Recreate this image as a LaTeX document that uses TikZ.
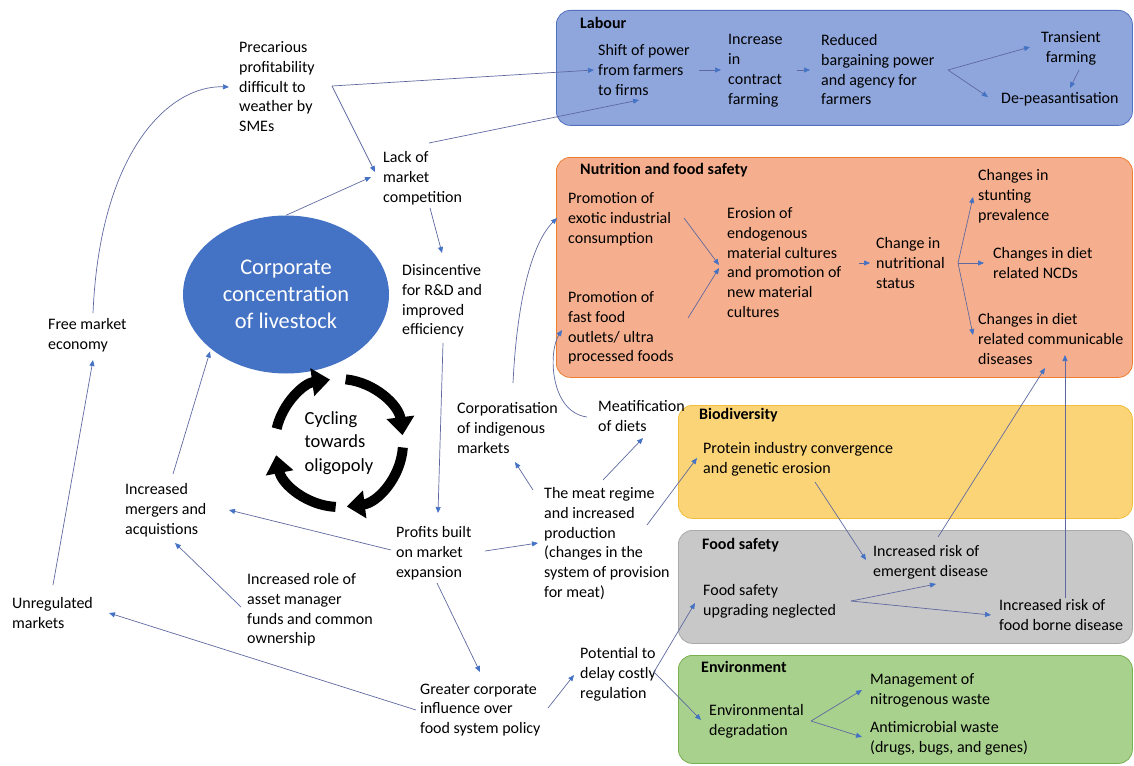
\documentclass[tikz,border=0pt]{standalone}
\usepackage{fontspec}
\setmainfont{Carlito}
\usetikzlibrary{arrows.meta,shapes.geometric}
\definecolor{lnk}{RGB}{95,105,160}
\definecolor{tipblue}{RGB}{68,114,196}
\definecolor{concblue}{RGB}{68,114,196}
\definecolor{labfill}{RGB}{143,166,221}
\definecolor{labline}{RGB}{84,112,192}
\definecolor{nutfill}{RGB}{246,175,142}
\definecolor{nutline}{RGB}{237,125,49}
\definecolor{biofill}{RGB}{252,212,120}
\definecolor{bioline}{RGB}{240,190,60}
\definecolor{fsfill}{RGB}{200,200,200}
\definecolor{fsline}{RGB}{170,170,170}
\definecolor{envfill}{RGB}{169,209,142}
\definecolor{envline}{RGB}{120,175,80}
\begin{document}
\begin{tikzpicture}[x=1pt,y=-1pt,
  txt/.style={font=\fontsize{16}{19.7}\selectfont, align=left, inner xsep=0pt,
    inner ysep=4.5pt, anchor=north west},
  ttl/.style={txt, font=\fontsize{16}{19.7}\selectfont\bfseries},
  panel/.style={rounded corners=14pt, line width=0.8pt, anchor=north west,
    inner sep=0pt, minimum width=576pt},
  link/.style={draw=lnk, line width=0.7pt,
    -{Triangle[length=6pt,width=5pt,color=tipblue]}},
  cycarrow/.style={line width=10pt, -{Triangle[length=18pt,width=27pt]}}
]
\useasboundingbox (0,0) rectangle (1134,765);

% coloured panels
\node[panel, fill=labfill, draw=labline, minimum height=115pt] (labourbox) at (556,10) {};
\node[panel, fill=nutfill, draw=nutline, minimum height=220pt] (nutbox) at (556,157) {};
\node[panel, fill=biofill, draw=bioline, minimum width=454pt, minimum height=113pt] (biobox) at (678,405) {};
\node[panel, fill=fsfill, draw=fsline, minimum width=454pt, minimum height=113pt] (fsbox) at (678,530) {};
\node[panel, fill=envfill, draw=envline, minimum width=454pt, minimum height=108pt] (envbox) at (678,655) {};

% central ellipse and the oligopoly cycle
\node[ellipse, fill=concblue, minimum width=206pt, minimum height=158pt, inner sep=0pt,
  text=white, align=center, font=\fontsize{22.4}{27}\selectfont] (conc) at (286,294.5)
  {Corporate\\concentration\\of livestock};
\node[align=left, inner sep=0pt, font=\fontsize{18.5}{23.5}\selectfont] (cyc) at (339,443)
  {Cycling\\towards\\oligopoly};
\draw[cycarrow] ([shift={(193:64)}]cyc.center) arc[start angle=193, end angle=262, radius=64];
\draw[cycarrow] ([shift={(276:64)}]cyc.center) arc[start angle=276, end angle=353, radius=64];
\draw[cycarrow] ([shift={(4:64)}]cyc.center) arc[start angle=4, end angle=83, radius=64];
\draw[cycarrow] ([shift={(93:64)}]cyc.center) arc[start angle=93, end angle=169, radius=64];

% free-standing causes and effects
\node[txt] (prec) at (239,37) {Precarious\\profitability\\difficult to\\weather by\\SMEs};
\node[txt] (lack) at (383,147) {Lack of\\market\\competition};
\node[txt] (disinc) at (402,260) {Disincentive\\for R\&D and\\improved\\efficiency};
\node[txt] (free) at (48,314) {Free market\\economy};
\node[txt] (merg) at (125,479) {Increased\\mergers and\\acquistions};
\node[txt] (asset) at (247,569) {Increased role of\\asset manager\\funds and common\\ownership};
\node[txt] (unreg) at (12,593) {Unregulated\\markets};
\node[txt] (profits) at (396,522) {Profits built\\on market\\expansion};
\node[txt] (greater) at (420,679) {Greater corporate\\influence over\\food system policy};
\node[txt] (meat) at (544,483) {The meat regime\\and increased\\production\\(changes in the\\system of provision\\for meat)};
\node[txt] (corp) at (457,398) {Corporatisation\\of indigenous\\markets};
\node[txt] (meatif) at (598,396) {Meatification\\of diets};
\node[txt] (potential) at (580,643) {Potential to\\delay costly\\regulation};

% Labour panel
\node[ttl] (labt) at (580,13) {Labour};
\node[txt] (shift) at (598,40) {Shift of power\\from farmers\\to firms};
\node[txt] (incr) at (728,30) {Increase\\in\\contract\\farming};
\node[txt] (reduced) at (821,30) {Reduced\\bargaining power\\and agency for\\farmers};
\node[txt, align=center, anchor=north] (transient) at (1071,27) {Transient\\farming};
\node[txt] (depeas) at (1001,88) {De-peasantisation};

% Nutrition panel
\node[ttl] (nutt) at (580,159) {Nutrition and food safety};
\node[txt] (exotic) at (568,188) {Promotion of\\exotic industrial\\consumption};
\node[txt] (fast) at (568,287) {Promotion of\\fast food\\outlets/ ultra\\processed foods};
\node[txt] (erosion) at (727,203) {Erosion of\\endogenous\\material cultures\\and promotion of\\new material\\cultures};
\node[txt] (change) at (876,233) {Change in\\nutritional\\status};
\node[txt] (stunting) at (978,165) {Changes in\\stunting\\prevalence};
\node[txt] (ncd) at (993,243) {Changes in diet\\related NCDs};
\node[txt] (commun) at (978,309) {Changes in diet\\related communicable\\diseases};

% Biodiversity, food safety and environment panels
\node[ttl] (biot) at (699,404) {Biodiversity};
\node[txt] (protein) at (703,438) {Protein industry convergence\\and genetic erosion};
\node[ttl] (fst) at (702,534) {Food safety};
\node[txt] (upgrade) at (703,580) {Food safety\\upgrading neglected};
\node[txt] (emergent) at (873,541) {Increased risk of\\emergent disease};
\node[txt] (foodborne) at (999,595) {Increased risk of\\food borne disease};
\node[ttl] (envt) at (701,657) {Environment};
\node[txt] (envdeg) at (709,700) {Environmental\\degradation};
\node[txt] (mgmt) at (870,669) {Management of\\nitrogenous waste};
\node[txt] (antimic) at (870,717) {Antimicrobial waste\\(drugs, bugs, and genes)};

% branch points
\coordinate (precout) at ([shift={(93,49)}]prec.north west);
\coordinate (changeout) at ([shift={(82,30)}]change.north west);
\coordinate (reducedout) at ([shift={(127,40)}]reduced.north west);
\coordinate (upgradeout) at ([shift={(148,21)}]upgrade.north west);
\coordinate (potout) at ([shift={(74,29)}]potential.north west);
\coordinate (envout) at ([shift={(102,21)}]envdeg.north west);

% connectors around the cycle
\draw[link] ([shift={(45,-1)}]free.north west) .. controls +(7,-163) and +(-59,-2) .. ([shift={(-10,50)}]prec.north west);
\draw[link] ([shift={(41,-8)}]unreg.north west) -- ([shift={(45,46)}]free.north west);
\draw[link] ([shift={(48,-5)}]merg.north west) -- ([shift={(-76,57)}]conc.center);
\draw[link] (conc.north) -- ([shift={(-12,30)}]lack.north west);
\draw[link] (precout) -- ([shift={(-8,25)}]lack.north west);
\draw[link] (precout) -- ([shift={(-4,30)}]shift.north west);
\draw[link] ([shift={(46,-4)}]lack.north west) -- ([shift={(41,60)}]shift.north west);
\draw[link] ([shift={(47,61)}]lack.north west) -- ([shift={(40,-7)}]disinc.north west);
\draw[link] ([shift={(41,83)}]disinc.north west) -- ([shift={(42,-9)}]profits.north west);
\draw[link] ([shift={(-5,28)}]profits.north west) -- ([shift={(104,31)}]merg.north west);
\draw[link] ([shift={(-6,38)}]asset.north west) -- ([shift={(50,64)}]merg.north west);
\draw[link] ([shift={(41,61)}]profits.north west) -- ([shift={(60,-7)}]greater.north west);
\draw[link] ([shift={(-4,31)}]greater.north west) -- ([shift={(97,20)}]unreg.north west);
\draw[link] ([shift={(89,29)}]profits.north west) -- ([shift={(-6,60)}]meat.north west);
\draw[link] ([shift={(-11,7)}]meat.north west) -- ([shift={(58,64)}]corp.north west);
\draw[link] ([shift={(59,-3)}]meat.north west) -- ([shift={(45,42)}]meatif.north west);
\draw[link] ([shift={(103,42)}]meat.north west) -- ([shift={(-6,20)}]protein.north west);
\draw[link] ([shift={(56,-15)}]corp.north west) .. controls +(4,-83) and +(-25,25) .. ([shift={(-11,30)}]exotic.north west);
\draw[link] ([shift={(-11,21)}]meatif.north west) .. controls +(-37,-5) and +(-14,22) .. ([shift={(-6,43)}]fast.north west);
\draw[link] ([shift={(128,29)}]greater.north west) -- ([shift={(-6,32)}]potential.north west);
\draw[link] (potout) -- ([shift={(-8,23)}]upgrade.north west);
\draw[link] (potout) -- ([shift={(-8,20)}]envdeg.north west);

% connectors inside the Labour panel
\draw[link] ([shift={(101,30)}]shift.north west) -- ([shift={(-7,40)}]incr.north west);
\draw[link] ([shift={(69,40)}]incr.north west) -- ([shift={(-11,40)}]reduced.north west);
\draw[link] (reducedout) -- ([shift={(-41,20)}]transient.north);
\draw[link] (reducedout) -- ([shift={(-13,9)}]depeas.north west);
\draw[link] ([shift={(8,43)}]transient.north) -- ([shift={(69,0)}]depeas.north west);

% connectors inside the Nutrition panel
\draw[link] ([shift={(116,30)}]exotic.north west) -- ([shift={(-8,62)}]erosion.north west);
\draw[link] ([shift={(120,31)}]fast.north west) -- ([shift={(-8,65)}]erosion.north west);
\draw[link] ([shift={(132,60)}]erosion.north west) -- ([shift={(-6,30)}]change.north west);
\draw[link] (changeout) -- ([shift={(-5,32)}]stunting.north west);
\draw[link] (changeout) -- ([shift={(-9,20)}]ncd.north west);
\draw[link] (changeout) -- ([shift={(-5,26)}]commun.north west);

% connectors among the lower panels
\draw[link] ([shift={(112,44)}]protein.north west) -- ([shift={(-7,19)}]emergent.north west);
\draw[link] ([shift={(65,-4)}]emergent.north west) -- ([shift={(67,59)}]commun.north west);
\draw[link] ([shift={(66,3)}]foodborne.north west) -- ([shift={(87,46)}]commun.north west);
\draw[link] (upgradeout) -- ([shift={(63,43)}]emergent.north west);
\draw[link] (upgradeout) -- ([shift={(-8,20)}]foodborne.north west);
\draw[link] (envout) -- ([shift={(-8,21)}]mgmt.north west);
\draw[link] (envout) -- ([shift={(-8,20)}]antimic.north west);
\end{tikzpicture}
\end{document}
